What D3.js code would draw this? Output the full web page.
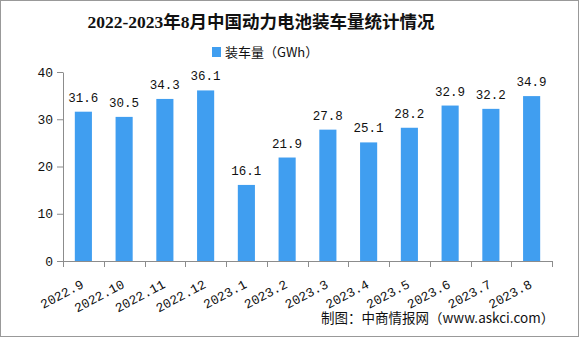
<!DOCTYPE html>
<html><head><meta charset="utf-8">
<script src="https://cdn.jsdelivr.net/npm/d3@7"></script>
<style>body{margin:0;background:#fff}svg{display:block}</style>
</head><body>
<script>
const categories = ["2022.9","2022.10","2022.11","2022.12","2023.1","2023.2","2023.3","2023.4","2023.5","2023.6","2023.7","2023.8"];
const values = [31.6,30.5,34.3,36.1,16.1,21.9,27.8,25.1,28.2,32.9,32.2,34.9];
const yTicks = [0,10,20,30,40];
const seriesName = "装车量（GWh）";
const titleText = "2022-2023年8月中国动力电池装车量统计情况";
const footerText = "制图：中商情报网（www.askci.com）";

const W = 579, H = 337;
const svg = d3.select("body").append("svg").attr("width", W).attr("height", H);
svg.append("rect").attr("x",0.5).attr("y",0.5).attr("width",W-1).attr("height",H-1)
  .attr("fill","#fff").attr("stroke","#999");

const x = d3.scaleBand().domain(categories).range([63,552]).paddingInner(0.58).paddingOuter(0.29);
const y = d3.scaleLinear().domain([0,40]).range([261,72]);
const barColor = "#409EF0";
const axisColor = "#8c8c8c";
const monoFont = "'Liberation Mono','DejaVu Sans Mono',monospace";

svg.append("text").attr("x",261).attr("y",28).attr("text-anchor","middle")
  .style("font-family","'Liberation Serif','Noto Sans CJK SC',serif").style("font-weight","bold")
  .style("font-size","17.5px").attr("fill","#111").text(titleText);

svg.append("rect").attr("x",212).attr("y",47).attr("width",9).attr("height",10).attr("fill",barColor);
svg.append("text").attr("x",225).attr("y",57).style("font-family","'Noto Sans CJK SC',sans-serif")
  .style("font-size","13px").attr("fill","#111").text(seriesName);

svg.selectAll("rect.bar").data(values).enter().append("rect").attr("class","bar")
  .attr("x",(d,i)=>x(categories[i])).attr("width",x.bandwidth())
  .attr("y",d=>y(d)).attr("height",d=>y(0)-y(d)).attr("fill",barColor);

svg.selectAll("text.val").data(values).enter().append("text").attr("class","val")
  .attr("x",(d,i)=>x(categories[i])+x.bandwidth()/2).attr("y",d=>y(d)-10)
  .attr("text-anchor","middle").style("font-family",monoFont).style("font-size","12.5px")
  .attr("fill","#111").text(d=>d.toFixed(1));

// y axis
const yAxis = svg.append("g").attr("transform","translate(63,0)")
  .call(d3.axisLeft(y).tickValues(yTicks).tickSize(6).tickSizeOuter(0));
yAxis.select(".domain").attr("stroke",axisColor);
yAxis.selectAll(".tick line").attr("stroke",axisColor);
yAxis.selectAll("text").style("font-family",monoFont).style("font-size","13px").attr("fill","#111").attr("x",-10);

// x axis
const xAx = svg.append("g").attr("transform","translate(0,261)");
xAx.append("line").attr("x1",63).attr("x2",552).attr("y1",0.5).attr("y2",0.5).attr("stroke",axisColor);
const bounds = d3.range(categories.length+1).map(i=>63 + i*(552-63)/categories.length);
xAx.selectAll("line.tk").data(bounds).enter().append("line").attr("class","tk")
  .attr("x1",d=>Math.round(d)+0.5).attr("x2",d=>Math.round(d)+0.5).attr("y1",0).attr("y2",6).attr("stroke",axisColor);
xAx.selectAll("text.cat").data(categories).enter().append("text").attr("class","cat")
  .attr("transform",d=>`translate(${x(d)+x.bandwidth()/2-3},${18}) rotate(-28)`)
  .attr("text-anchor","end").attr("dy","0.7em")
  .style("font-family",monoFont).style("font-size","13px").attr("fill","#111").text(d=>d);

svg.append("text").attr("x",321).attr("y",323).style("font-family","'Noto Sans CJK SC',sans-serif")
  .style("font-size","13.5px").attr("fill","#111").text(footerText);
</script>
</body></html>
